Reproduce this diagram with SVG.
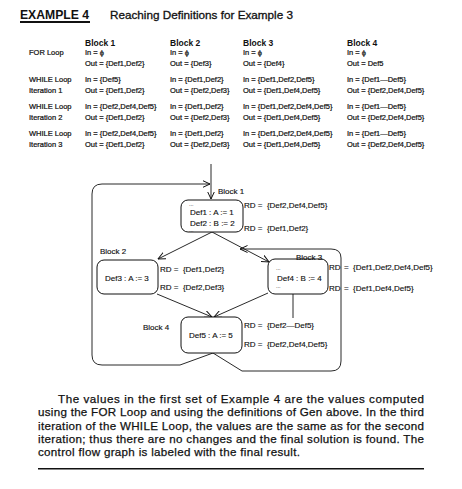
<svg xmlns="http://www.w3.org/2000/svg" width="462" height="489" viewBox="0 0 462 489">
<style>
text{font-family:"Liberation Sans",Arial,sans-serif;fill:#111}
.t{font-size:7.5px;stroke:#111;stroke-width:0.22}
.h{font-size:8.5px;font-weight:bold}
.g{font-size:8px;stroke:#111;stroke-width:0.15}
.d{font-size:5.5px}
.p{font-size:11.6px;stroke:#111;stroke-width:0.25}
.box{fill:#fff;stroke:#111;stroke-width:1}
.e{fill:none;stroke:#111;stroke-width:0.9}
</style>
<defs>
<marker id="ar" viewBox="0 0 8 8" refX="7.5" refY="4" markerWidth="8" markerHeight="8" markerUnits="userSpaceOnUse" orient="auto">
<path d="M0,0.5 L7.5,4 L0,7.5" fill="none" stroke="#111" stroke-width="1"/>
</marker>
</defs>
<rect width="462" height="489" fill="#fff"/>

<g id="title">
<text x="20" y="19" font-size="13" font-weight="bold" textLength="69" lengthAdjust="spacingAndGlyphs">EXAMPLE 4</text>
<rect x="20" y="21" width="70" height="2" fill="#111"/>
<text x="110" y="19" font-size="11" stroke="#111" stroke-width="0.3" textLength="183" lengthAdjust="spacingAndGlyphs">Reaching Definitions for Example 3</text>
</g>

<g id="table">
<text class="h" x="85" y="46">Block 1</text>
<text class="h" x="170" y="46">Block 2</text>
<text class="h" x="243" y="46">Block 3</text>
<text class="h" x="347" y="46">Block 4</text>

<text class="t" x="29" y="55">FOR Loop</text>
<text class="t" x="85" y="55">In = ϕ</text><text class="t" x="85" y="65.5">Out = {Def1,Def2}</text>
<text class="t" x="170" y="55">In = ϕ</text><text class="t" x="170" y="65.5">Out = {Def3}</text>
<text class="t" x="243" y="55">In = ϕ</text><text class="t" x="243" y="65.5">Out = {Def4}</text>
<text class="t" x="347" y="55">In = ϕ</text><text class="t" x="347" y="65.5">Out = Def5</text>

<text class="t" x="29" y="82">WHILE Loop</text><text class="t" x="29" y="93">Iteration 1</text>
<text class="t" x="85" y="82">In = {Def5}</text><text class="t" x="85" y="93">Out = {Def1,Def2}</text>
<text class="t" x="170" y="82">In = {Def1,Def2}</text><text class="t" x="170" y="93">Out = {Def2,Def3}</text>
<text class="t" x="243" y="82">In = {Def1,Def2,Def5}</text><text class="t" x="243" y="93">Out = {Def1,Def4,Def5}</text>
<text class="t" x="347" y="82">In = {Def1—Def5}</text><text class="t" x="347" y="93">Out = {Def2,Def4,Def5}</text>

<text class="t" x="29" y="109">WHILE Loop</text><text class="t" x="29" y="120">Iteration 2</text>
<text class="t" x="85" y="109">In = {Def2,Def4,Def5}</text><text class="t" x="85" y="120">Out = {Def1,Def2}</text>
<text class="t" x="170" y="109">In = {Def1,Def2}</text><text class="t" x="170" y="120">Out = {Def2,Def3}</text>
<text class="t" x="243" y="109">In = {Def1,Def2,Def4,Def5}</text><text class="t" x="243" y="120">Out = {Def1,Def4,Def5}</text>
<text class="t" x="347" y="109">In = {Def1—Def5}</text><text class="t" x="347" y="120">Out = {Def2,Def4,Def5}</text>

<text class="t" x="29" y="136">WHILE Loop</text><text class="t" x="29" y="147">Iteration 3</text>
<text class="t" x="85" y="136">In = {Def2,Def4,Def5}</text><text class="t" x="85" y="147">Out = {Def1,Def2}</text>
<text class="t" x="170" y="136">In = {Def1,Def2}</text><text class="t" x="170" y="147">Out = {Def2,Def3}</text>
<text class="t" x="243" y="136">In = {Def1,Def2,Def4,Def5}</text><text class="t" x="243" y="147">Out = {Def1,Def4,Def5}</text>
<text class="t" x="347" y="136">In = {Def1—Def5}</text><text class="t" x="347" y="147">Out = {Def2,Def4,Def5}</text>
</g>

<g id="connectors">
<path class="e" d="M211,164 L211,199" marker-end="url(#ar)"/>
<path class="e" d="M213,353 L180,365 L102,365 Q92,365 92,355 L92,194 Q92,184 102,184 L210,184" marker-end="url(#ar)"/>
<path class="e" d="M212,232 L158,259" marker-end="url(#ar)"/>
<path class="e" d="M212,232 L269,262" marker-end="url(#ar)"/>
<path class="e" d="M213,353 L242,371 L331,371 Q341,371 341,361 L341,258 Q341,249 331,249 L240,249" marker-end="url(#ar)"/>
<path class="e" d="M157,294 L212,317" marker-end="url(#ar)"/>
<path class="e" d="M268,293 L214,317" marker-end="url(#ar)"/>
<path class="e" d="M293,294 L293,318"/>
</g>

<g id="block1">
<rect class="box" x="181" y="200" width="62" height="32" rx="7"/>
<text class="d" x="189" y="205.5">...</text>
<text class="g" x="190" y="215">Def1 : A := 1</text>
<text class="g" x="190" y="225.5">Def2 : B := 2</text>
<text class="d" x="189" y="231.5">...</text>
<text class="g" x="218" y="194">Block 1</text>
<text class="g" x="244" y="208" xml:space="preserve">RD =  {Def2,Def4,Def5}</text>
<text class="g" x="244" y="231" xml:space="preserve">RD =  {Def1,Def2}</text>
</g>

<g id="block2">
<rect class="box" x="97" y="260" width="61" height="34" rx="7"/>
<text class="g" x="105" y="281">Def3 : A := 3</text>
<text class="g" x="100" y="254">Block 2</text>
<text class="g" x="160" y="272" xml:space="preserve">RD =  {Def1,Def2}</text>
<text class="g" x="160" y="290" xml:space="preserve">RD =  {Def2,Def3}</text>
</g>

<g id="block3">
<rect class="box" x="268" y="259" width="60" height="35" rx="7"/>
<text class="d" x="276" y="270">...</text>
<text class="g" x="277" y="280.5">Def4 : B := 4</text>
<text class="d" x="276" y="288">...</text>
<text class="g" x="296" y="259.5">Block 3</text>
<text class="g" x="329" y="270">RD</text>
<text class="g" x="344" y="270" xml:space="preserve">=  {Def1,Def2,Def4,Def5}</text>
<text class="g" x="329" y="291">RD</text>
<text class="g" x="344" y="291" xml:space="preserve">=  {Def1,Def4,Def5}</text>
</g>

<g id="block4">
<rect class="box" x="181" y="317" width="61" height="36" rx="7"/>
<text class="g" x="189" y="338">Def5 : A := 5</text>
<text class="g" x="143" y="330">Block 4</text>
<text class="g" x="244" y="328" xml:space="preserve">RD =  {Def2—Def5}</text>
<text class="g" x="244" y="347" xml:space="preserve">RD =  {Def2,Def4,Def5}</text>
</g>

<g id="caption">
<text class="p" x="58" y="403" textLength="366" lengthAdjust="spacing">The values in the first set of Example 4 are the values computed</text>
<text class="p" x="38" y="416" textLength="386" lengthAdjust="spacing">using the FOR Loop and using the definitions of Gen above. In the third</text>
<text class="p" x="38" y="429.5" textLength="386" lengthAdjust="spacing">iteration of the WHILE Loop, the values are the same as for the second</text>
<text class="p" x="38" y="442.5" textLength="386" lengthAdjust="spacing">iteration; thus there are no changes and the final solution is found. The</text>
<text class="p" x="38" y="455.5" textLength="262" lengthAdjust="spacing">control flow graph is labeled with the final result.</text>
<rect x="38" y="468" width="386" height="1.5" fill="#111"/>
</g>
</svg>
